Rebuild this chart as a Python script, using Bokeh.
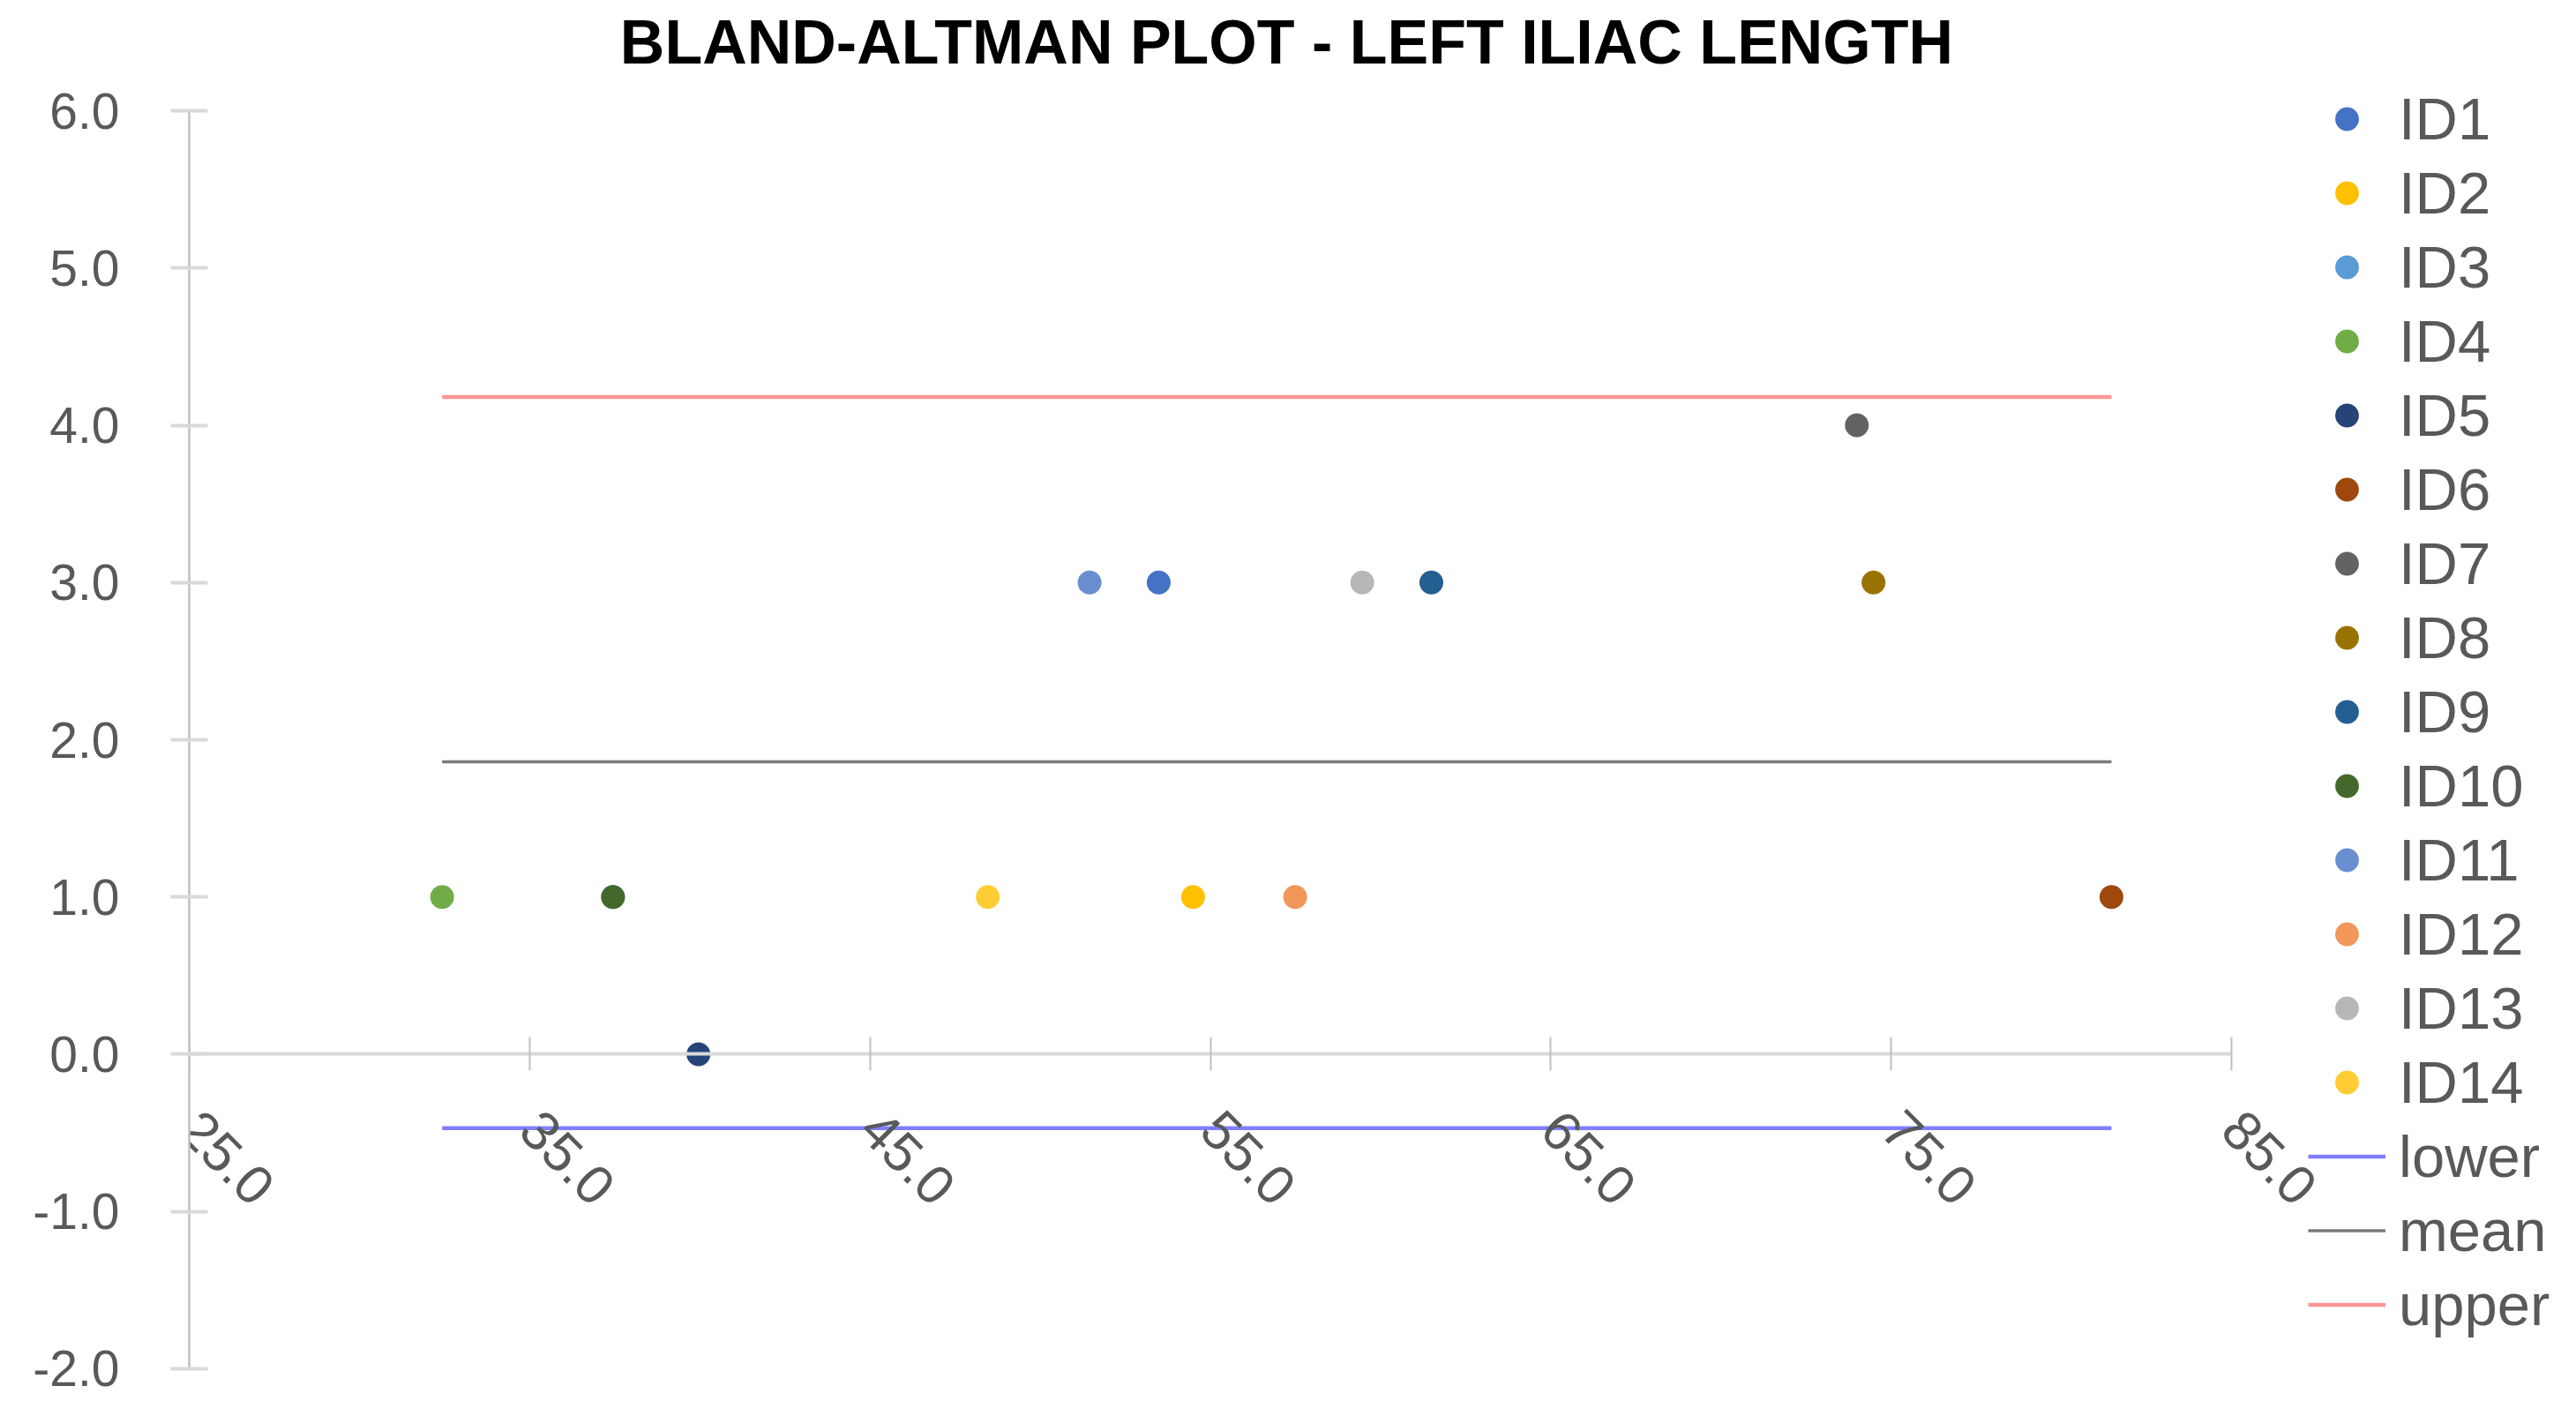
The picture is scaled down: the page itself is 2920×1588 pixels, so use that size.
from bokeh.plotting import figure
from bokeh.models import Range1d, FixedTicker, Legend, LegendItem, Label
from bokeh.embed import file_html
from bokeh.resources import INLINE

# ---- data ----
ids = ["ID1", "ID2", "ID3", "ID4", "ID5", "ID6", "ID7",
       "ID8", "ID9", "ID10", "ID11", "ID12", "ID13", "ID14"]
mean_x = [53.48, 54.49, 37.45, 32.43, 39.96, 81.47, 73.99,
          74.48, 61.49, 37.45, 51.45, 57.49, 59.46, 48.46]
diff_y = [3.0, 1.0, 1.0, 1.0, 0.0, 1.0, 4.0,
          3.0, 3.0, 1.0, 3.0, 1.0, 3.0, 1.0]
colors = ["#4472C4", "#FFC000", "#5B9BD5", "#70AD47", "#264478", "#9E480E", "#636363",
          "#997300", "#255E91", "#43682B", "#698ED0", "#F1975A", "#B7B7B7", "#FFCD33"]

limit_x = [32.43, 81.47]
lower_val = -0.47
mean_val = 1.86
upper_val = 4.18

x_ticks = [25, 35, 45, 55, 65, 75, 85]
x_tick_labels = ["25.0", "35.0", "45.0", "55.0", "65.0", "75.0", "85.0"]
y_ticks = [-2, -1, 0, 1, 2, 3, 4, 5, 6]
y_tick_labels = ["-2.0", "-1.0", "0.0", "1.0", "2.0", "3.0", "4.0", "5.0", "6.0"]

TXT = "#595959"
FONT = "Liberation Sans"

# frame spans the whole canvas right of the y axis; the axes are bounded to the data area
W, H = 2920, 1588
LEFT = 214
p = figure(width=W, height=H, output_backend="svg", toolbar_location=None, title=None,
           x_range=Range1d(25, 95.13), y_range=Range1d(-2.2076, 6.7013),
           min_border_left=LEFT, min_border_right=0, min_border_bottom=0,
           min_border_top=0)
p.outline_line_color = None
p.xgrid.visible = False
p.ygrid.visible = False
p.background_fill_color = "white"
p.border_fill_color = "white"

title = Label(text="BLAND-ALTMAN PLOT - LEFT ILIAC LENGTH",
              x=1458 - LEFT, y=H - 47, x_units="screen", y_units="screen",
              text_align="center", text_baseline="middle",
              text_font=FONT, text_font_style="bold", text_font_size="70px",
              text_color="black")
p.add_layout(title)

# x axis crossing at y = 0
xa = p.xaxis[0]
xa.fixed_location = 0
xa.bounds = (25, 85)
xa.ticker = FixedTicker(ticks=x_ticks)
xa.major_label_overrides = {t: l for t, l in zip(x_ticks, x_tick_labels)}
xa.major_label_orientation = -0.785398
xa.axis_line_color = "#D9D9D9"
xa.axis_line_width = 4
xa.major_tick_line_color = "#BFBFBF"
xa.major_tick_line_width = 2
xa.major_tick_in = 19
xa.major_tick_out = 19
xa.minor_tick_line_color = None
xa.major_label_standoff = 56
xa.major_label_text_font = FONT
xa.major_label_text_font_size = "62px"
xa.major_label_text_color = TXT

ya = p.yaxis[0]
ya.bounds = (-2, 6)
ya.ticker = FixedTicker(ticks=y_ticks)
ya.major_label_overrides = {t: l for t, l in zip(y_ticks, y_tick_labels)}
ya.axis_line_color = "#BFBFBF"
ya.axis_line_width = 2.5
ya.major_tick_line_color = "#D9D9D9"
ya.major_tick_line_width = 4
ya.major_tick_in = 21
ya.major_tick_out = 21
ya.minor_tick_line_color = None
ya.major_label_standoff = 58
ya.major_label_text_font = FONT
ya.major_label_text_font_size = "57px"
ya.major_label_text_color = TXT

items = []
for name, x, y, c in zip(ids, mean_x, diff_y, colors):
    r = p.scatter(x=[x], y=[y], size=27, marker="circle", fill_color=c, line_color=None)
    items.append(LegendItem(label=name, renderers=[r]))

r_low = p.line(x=limit_x, y=[lower_val, lower_val], line_color="#7F7FFF", line_width=4.5)
r_mean = p.line(x=limit_x, y=[mean_val, mean_val], line_color="#7A7A7A", line_width=3.5)
r_up = p.line(x=limit_x, y=[upper_val, upper_val], line_color="#FF9494", line_width=4.5)
items.append(LegendItem(label="lower", renderers=[r_low]))
items.append(LegendItem(label="mean", renderers=[r_mean]))
items.append(LegendItem(label="upper", renderers=[r_up]))

legend = Legend(items=items, location=(2616 - LEFT, H - 1520))
legend.label_text_font = FONT
legend.label_text_font_size = "67px"
legend.label_text_color = TXT
legend.glyph_width = 88
legend.glyph_height = 67
legend.label_height = 84
legend.spacing = 0
legend.padding = 0
legend.margin = 0
legend.label_standoff = 15
legend.border_line_color = None
legend.background_fill_alpha = 0
p.add_layout(legend)

open("out.html", "w").write(file_html(p, INLINE))
